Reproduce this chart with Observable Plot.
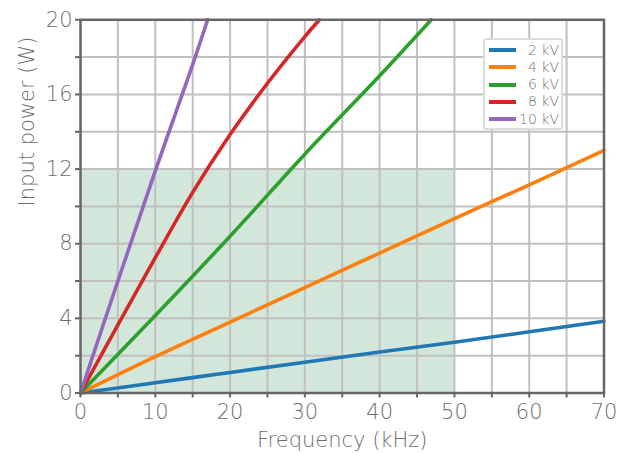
<!DOCTYPE html>
<html>
<head>
<meta charset="utf-8">
<script src="https://cdn.jsdelivr.net/npm/d3@7"></script>
<script src="https://cdn.jsdelivr.net/npm/@observablehq/plot@0.6"></script>
<style>
  html, body { margin: 0; padding: 0; background: #fff; }
  #wrap { position: relative; width: 629px; height: 453px; }
  #legend {
    position: absolute; left: 483px; top: 38px; width: 76px; height: 88px;
    background: #fff; border: 2px solid #dcdcdc; border-radius: 3px;
    font-family: "DejaVu Sans ExtraLight", "DejaVu Sans", sans-serif; font-weight: 200; font-size: 14px; color: #707070;
  }
  .row { position: absolute; left: 2px; width: 72px; height: 17px; }
  .sw { position: absolute; left: 2px; top: 6.5px; width: 27px; height: 4px; }
  .lb { position: absolute; right: 0px; top: 0; line-height: 17px; }
</style>
</head>
<body>
<div id="wrap"><div id="legend"></div></div>
<script>
// Series: frequency (kHz) and input power (W) per voltage
const series = ["2 kV", "4 kV", "6 kV", "8 kV", "10 kV"];
const colors = ["#1f77b4", "#ff7f0e", "#2ca02c", "#d62728", "#9467bd"];

const f2kV = [0, 10, 20, 30, 40, 50, 60, 70];
const p2kV = [0, 0.55, 1.1, 1.65, 2.2, 2.72, 3.28, 3.85];

const f4kV = [0, 10, 20, 30, 40, 50, 60, 70];
const p4kV = [0, 1.95, 3.8, 5.65, 7.5, 9.35, 11.15, 13.0];

const f6kV = [0, 10, 20, 30, 40, 46.9];
const p6kV = [0, 4.15, 8.4, 12.8, 17.0, 20];

const f8kV = [0, 5, 10, 15, 20, 25, 30, 31.95];
const p8kV = [0, 3.65, 7.25, 10.75, 13.85, 16.6, 19.1, 20];

const f10kV = [0, 5, 10, 15, 17.0];
const p10kV = [0, 6.0, 11.9, 17.6, 20];

// Shaded operating region
const regionF = [0, 50];
const regionP = [0, 12];

// Ticks
const xTicks = d3.range(0, 71, 5);
const xLabels = [0, 10, 20, 30, 40, 50, 60, 70];
const yTicks = d3.range(0, 21, 2);
const yLabels = [0, 4, 8, 12, 16, 20];

const fs = [f2kV, f4kV, f6kV, f8kV, f10kV];
const ps = [p2kV, p4kV, p6kV, p8kV, p10kV];
const rows = [];
series.forEach((s, i) => fs[i].forEach((f, j) => rows.push({series: s, f, p: ps[i][j]})));

const font = "'DejaVu Sans ExtraLight', 'DejaVu Sans', sans-serif";
const textColor = "#6e6e6e";
const axisColor = "#666";

const chart = Plot.plot({
  width: 629,
  height: 453,
  marginLeft: 80,
  marginRight: 25.5,
  marginTop: 19.3,
  marginBottom: 60.5,
  x: {domain: [0, 70]},
  y: {domain: [0, 20]},
  color: {domain: series, range: colors},
  style: {fontFamily: font, fontWeight: 200, fontSize: "21px", color: textColor, background: "white", overflow: "visible"},
  marks: [
    Plot.rect([{}], {x1: regionF[0], x2: regionF[1], y1: regionP[0], y2: regionP[1], fill: "#d2e6da"}),
    Plot.gridX(xTicks.filter(d => d > 0 && d < 70), {stroke: "#c0c0c0", strokeOpacity: 1, strokeWidth: 2}),
    Plot.gridY(yTicks.filter(d => d > 0 && d < 20), {stroke: "#c0c0c0", strokeOpacity: 1, strokeWidth: 2}),
    Plot.line(rows, {x: "f", y: "p", z: "series", stroke: "series", strokeWidth: 3.6, curve: "catmull-rom"}),
    Plot.axisX(xTicks, {
      tickSize: 5, tickPadding: 6.5, stroke: axisColor, strokeWidth: 2,
      tickFormat: d => xLabels.includes(d) ? d : "", label: null,
      fontSize: 21, fill: textColor
    }),
    Plot.axisY(yTicks, {
      tickSize: 5, tickPadding: 3, stroke: axisColor, strokeWidth: 2,
      tickFormat: d => yLabels.includes(d) ? d : "", label: null,
      fontSize: 21, fill: textColor
    }),
    Plot.frame({stroke: axisColor, strokeWidth: 2.5}),
    Plot.text(["Frequency (kHz)"], {text: d => d, frameAnchor: "bottom", dy: 39, lineAnchor: "top", fontSize: 21, fill: textColor}),
    Plot.text(["Input power (W)"], {text: d => d, frameAnchor: "left", dx: -61, rotate: -90, lineAnchor: "top", fontSize: 21, fill: textColor})
  ]
});

document.getElementById("wrap").prepend(chart);

const legend = document.getElementById("legend");
series.forEach((s, i) => {
  const row = document.createElement("div");
  row.className = "row";
  row.style.top = (1.5 + i * 17.3) + "px";
  const sw = document.createElement("div");
  sw.className = "sw";
  sw.style.background = colors[i];
  const lb = document.createElement("div");
  lb.className = "lb";
  lb.textContent = s;
  row.appendChild(sw);
  row.appendChild(lb);
  legend.appendChild(row);
});
</script>
</body>
</html>
